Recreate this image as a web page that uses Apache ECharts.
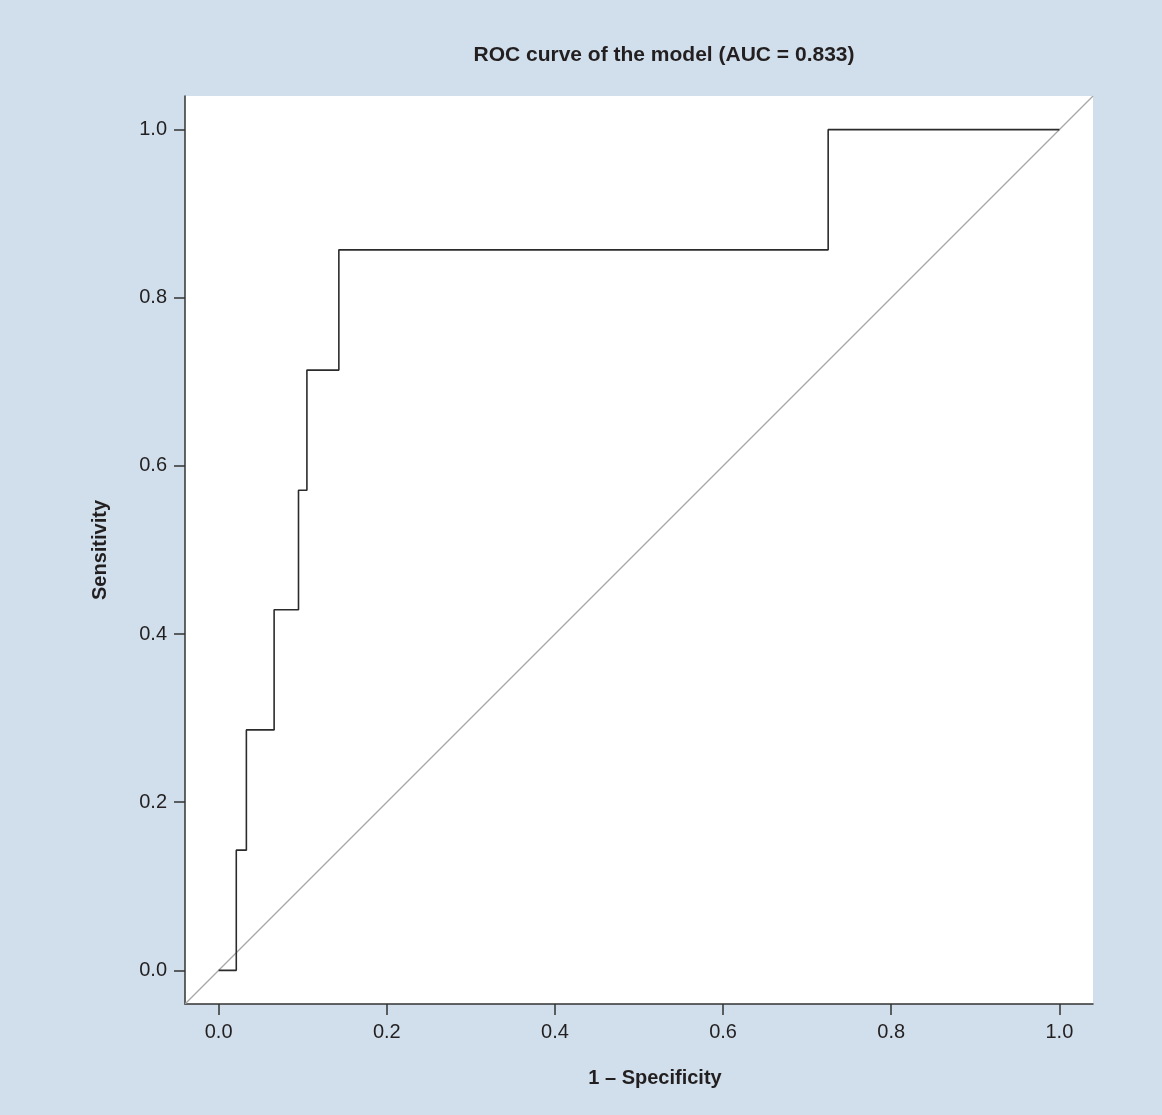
<!DOCTYPE html>
<html style="height: 100%">
<head>
    <meta charset="utf-8">
</head>
<body style="height: 100%; margin: 0; background: #d0dfeb">
<div id="container" style="width: 1162px; height: 1115px"></div>
<script type="text/javascript" src="https://cdn.jsdelivr.net/npm/echarts@6/dist/echarts.min.js"></script>
<script type="text/javascript">
    // ROC step curve vertices (1 - specificity, sensitivity)
    var fpr = [0, 0.021, 0.033, 0.066, 0.095, 0.105, 0.143, 0.725, 1.0];
    var tpr = [0, 0.143, 0.286, 0.429, 0.571, 0.714, 0.857, 1.0, 1.0];
    // reference diagonal, drawn corner to corner of the plot box
    var diagX = [-0.04, 1.04];
    var diagY = [-0.04, 1.04];
    var ticks = [0, 0.2, 0.4, 0.6, 0.8, 1.0];

    var dom = document.getElementById("container");
    var myChart = echarts.init(dom);

    var rocData = fpr.map(function (x, i) { return [x, tpr[i]]; });
    var diagData = diagX.map(function (x, i) { return [x, diagY[i]]; });

    var textColor = '#231f20';
    var axisColor = '#333';
    var font = '"Liberation Sans", Arial, Helvetica, sans-serif';

    function axis() {
        return {
            type: 'value',
            min: -0.04,
            max: 1.04,
            splitLine: { show: false },
            axisLine: { show: true, onZero: false, lineStyle: { color: axisColor, width: 1.5 } },
            axisTick: { show: true, customValues: ticks, length: 11, lineStyle: { color: axisColor, width: 1.5 } },
            axisLabel: {
                customValues: ticks,
                margin: 18,
                fontSize: 20,
                fontFamily: font,
                color: textColor,
                formatter: function (v) { return v.toFixed(1); }
            }
        };
    }

    var option = {
        backgroundColor: '#d0dfeb',
        animation: false,
        grid: {
            left: 185,
            top: 96,
            width: 908,
            height: 908,
            show: true,
            backgroundColor: '#ffffff',
            borderWidth: 0
        },
        xAxis: axis(),
        yAxis: axis(),
        graphic: [
            {
                type: 'text', x: 664, y: 55,
                style: {
                    text: 'ROC curve of the model (AUC = 0.833)',
                    align: 'center', verticalAlign: 'middle',
                    textAlign: 'center', textVerticalAlign: 'middle',
                    font: 'bold 21px ' + font, fill: textColor
                }
            },
            {
                type: 'text', x: 655, y: 1078,
                style: {
                    text: '1 – Specificity',
                    align: 'center', verticalAlign: 'middle',
                    textAlign: 'center', textVerticalAlign: 'middle',
                    font: 'bold 20px ' + font, fill: textColor
                }
            },
            {
                type: 'text', x: 100, y: 550, rotation: Math.PI / 2,
                style: {
                    text: 'Sensitivity',
                    align: 'center', verticalAlign: 'middle',
                    textAlign: 'center', textVerticalAlign: 'middle',
                    font: 'bold 20px ' + font, fill: textColor
                }
            }
        ],
        series: [
            {
                name: 'diagonal',
                type: 'line',
                data: diagData,
                symbol: 'none',
                z: 1,
                lineStyle: { color: '#a6a6a6', width: 1.2 }
            },
            {
                name: 'ROC',
                type: 'line',
                step: 'end',
                data: rocData,
                symbol: 'none',
                z: 2,
                lineStyle: { color: '#2b2b2b', width: 1.6 }
            }
        ]
    };

    myChart.setOption(option, true);
</script>
</body>
</html>
